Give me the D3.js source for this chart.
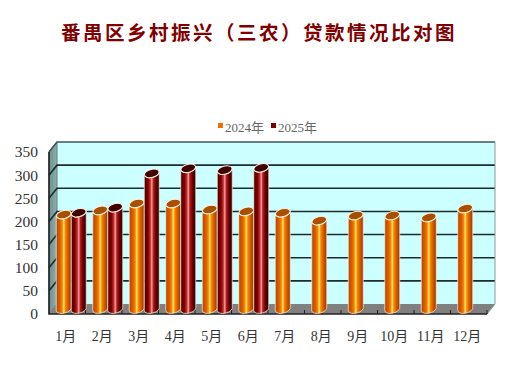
<!DOCTYPE html>
<html>
<head>
<meta charset="utf-8">
<script src="https://cdnjs.cloudflare.com/ajax/libs/d3/7.8.5/d3.min.js"></script>
<style>
html,body{margin:0;padding:0;background:#fff;overflow:hidden}
svg{display:block}
.cjk{font-family:"Liberation Serif","Noto Sans CJK SC",serif}
</style>
</head>
<body>
<div id="chart"></div>
<script>
var months = ["1月","2月","3月","4月","5月","6月","7月","8月","9月","10月","11月","12月"]
var years = ["2024年","2025年"]
var v2024 = [204,213,228,228,215,211,208,191,202,202,198,217]
var v2025 = [208,219,293,304,300,305]
var yTicks = [0,50,100,150,200,250,300,350]
var titleText = "番禺区乡村振兴（三农）贷款情况比对图"

var WIDTH = 522, HEIGHT = 383,
	depthX = 8, depthY = -10

var svg = d3.select("#chart").append("svg")
	.attr("width", WIDTH)
	.attr("height", HEIGHT)

var x = d3.scaleBand().domain(months).range([49,487])
var y = d3.scaleLinear().domain([0,350]).range([314,152])
var barX = d3.scaleBand().domain(years).range([x.bandwidth()/2 - 15, x.bandwidth()/2 + 15])

// cylinder gradients
var defs = svg.append("defs")
function addGradient(id, stops){
	var g = defs.append("linearGradient").attr("id", id)
	stops.forEach(function(s){
		g.append("stop").attr("offset", s[0]).attr("stop-color", s[1])
	})
}
addGradient("orange", [[0,"#b04800"],[.25,"#e05c00"],[.4,"#f88800"],[.5,"#ffee70"],[.6,"#f88800"],[.78,"#d85800"],[1,"#903800"]])
addGradient("red", [[0,"#4a0000"],[.25,"#800000"],[.4,"#c03030"],[.5,"#ffa0a0"],[.6,"#b02020"],[.78,"#680000"],[1,"#300000"]])
addGradient("sidewall", [[0,"#6f8f8f"],[1,"#8fafaf"]])

var left = x.range()[0], right = x.range()[1],
	bottom = y(0), top_ = y(350)

// walls
svg.append("path")
	.attr("d", "M" + (left+depthX) + "," + (top_+depthY) + "H" + (right+depthX) + "V" + (bottom+depthY) + "H" + (left+depthX) + "Z")
	.attr("fill", "#ccffff")
svg.append("path")
	.attr("d", "M" + left + "," + top_ + "L" + (left+depthX) + "," + (top_+depthY) + "V" + (bottom+depthY) + "L" + left + "," + bottom + "Z")
	.attr("fill", "url(#sidewall)")
	.attr("stroke", "#5f7f7f")
svg.append("path")
	.attr("d", "M" + left + "," + bottom + "L" + (left+depthX) + "," + (bottom+depthY) + "H" + (right+depthX) + "L" + right + "," + bottom + "Z")
	.attr("fill", "#808080")

// grid lines
svg.selectAll(".grid")
	.data(yTicks.slice(1))
	.enter()
	.append("path")
	.attr("class", "grid")
	.attr("d", function(d){
		return "M" + left + "," + y(d) + "L" + (left+depthX) + "," + (y(d)+depthY) + "H" + (right+depthX)
	})
	.attr("fill", "none")
	.attr("stroke", function(d){ return d == 350 ? "#3f5555" : "#1c2c2c" })
	.attr("stroke-width", 1.6)
svg.append("path")
	.attr("d", "M" + (right+depthX) + "," + (top_+depthY) + "V" + (bottom+depthY) + "L" + right + "," + bottom)
	.attr("fill", "none")
	.attr("stroke", "#7f9f9f")

// front axis line
svg.append("path")
	.attr("d", "M" + left + "," + top_ + "V" + bottom + "H" + right)
	.attr("fill", "none")
	.attr("stroke", "#222")
	.attr("stroke-width", 1.6)

var yAxis = svg.append("g")
	.attr("transform", "translate(" + left + ",0)")
	.call(d3.axisLeft(y).tickValues(yTicks).tickSize(0).tickPadding(11))
yAxis.select(".domain").remove()
yAxis.selectAll("text")
	.attr("font-family", "'Liberation Serif',serif")
	.attr("font-size", 15.5)
	.attr("fill", "#333")

var xAxis = svg.append("g")
	.attr("transform", "translate(0," + bottom + ")")
	.call(d3.axisBottom(x).tickSize(4).tickPadding(13))
xAxis.select(".domain").remove()
xAxis.selectAll("line").attr("stroke", "#222").attr("y1", -4).attr("y2", 0)
	.attr("transform", "translate(" + x.bandwidth()/2 + ",0)")
xAxis.selectAll("text")
	.attr("class", "cjk")
	.attr("font-size", 14)
	.attr("fill", "#333")
	.attr("dx", -1.5)

function cylinder(xc, h, base){
	var r = barX.bandwidth()/2, ry = 4, rot = -14
	var tilt = r * Math.tan(rot*Math.PI/180)
	return "M" + (xc-r) + "," + (h-tilt) +
		"V" + (base-tilt) +
		"A" + r + "," + ry + " " + rot + " 0 0 " + (xc+r) + "," + (base+tilt) +
		"V" + (h+tilt) +
		"A" + r + "," + ry + " " + rot + " 0 1 " + (xc-r) + "," + (h-tilt) + "Z"
}
function drawBars(data, year, fill, capColor){
	var g = svg.selectAll(".bar" + year)
		.data(data)
		.enter()
		.append("g")
		.attr("class", "bar" + year)
	function xc(d,i){ return x(months[i]) + barX(year) + barX.bandwidth()/2 + depthX/2 }
	g.append("path")
		.attr("d", function(d,i){ return cylinder(xc(d,i), y(d)+depthY/2, y(0)+depthY/2) })
		.attr("fill", "url(#" + fill + ")")
		.attr("stroke", "#fff0e0")
		.attr("stroke-width", .7)
	g.append("ellipse")
		.attr("cx", function(d,i){ return xc(d,i) })
		.attr("cy", function(d){ return y(d)+depthY/2 })
		.attr("rx", barX.bandwidth()/2)
		.attr("ry", 4)
		.attr("transform", function(d,i){ return "rotate(-14 " + xc(d,i) + " " + (y(d)+depthY/2) + ")" })
		.attr("fill", capColor)
		.attr("stroke", "#fff0e0")
		.attr("stroke-width", 1)
}
drawBars(v2024, years[0], "orange", "#a85000")
drawBars(v2025, years[1], "red", "#400000")

// title
svg.append("text")
	.attr("x", 259)
	.attr("y", 40)
	.attr("text-anchor", "middle")
	.attr("font-family", "'Noto Sans CJK SC',sans-serif")
	.attr("font-weight", 700)
	.attr("font-size", 19.5)
	.attr("letter-spacing", 2.5)
	.attr("fill", "#800000")
	.text(titleText)

// legend
var legendColors = ["#f07000","#800000"]
var legendX = d3.scaleOrdinal().domain(years).range([218,271])
var legend = svg.selectAll(".legend")
	.data(years)
	.enter()
	.append("g")
	.attr("class", "legend")
	.attr("transform", function(d){ return "translate(" + legendX(d) + ",123)" })
legend.append("rect")
	.attr("width", 5)
	.attr("height", 5)
	.attr("fill", function(d,i){ return legendColors[i] })
legend.append("text")
	.attr("class", "cjk")
	.attr("x", 7)
	.attr("y", 8.5)
	.attr("font-size", 13)
	.attr("fill", "#666")
	.text(function(d){ return d })
</script>
</body>
</html>
